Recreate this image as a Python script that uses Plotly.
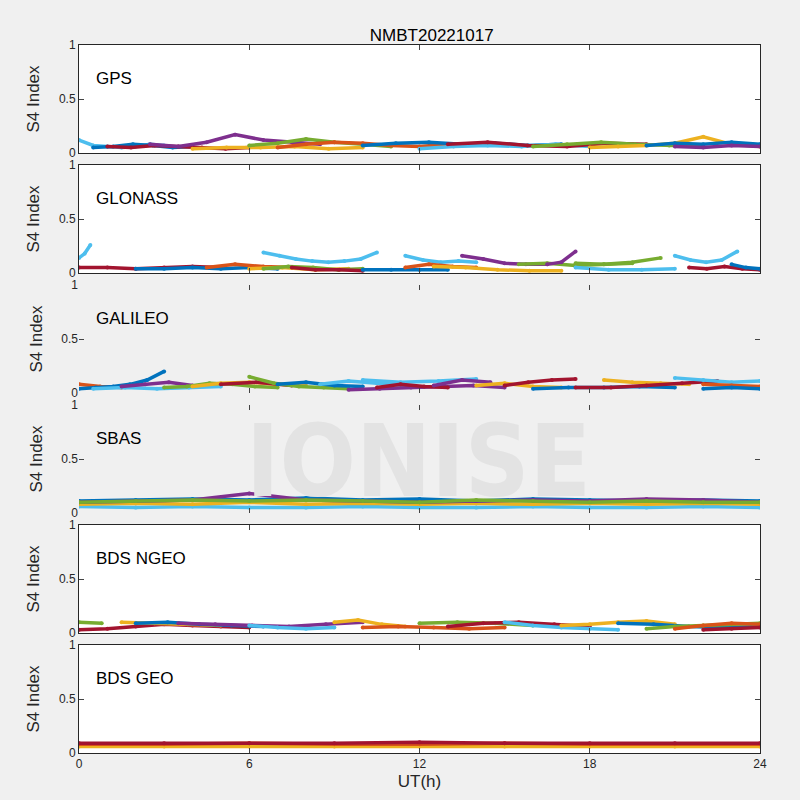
import numpy as np
import plotly.graph_objects as go
from plotly.subplots import make_subplots

# ── MATLAB default colour order ───────────────────────────────────────────────
CLRS = ["#0072BD", "#D95319", "#EDB120", "#7E2F8E", "#77AC30", "#4DBEEE", "#A2142F"]

TITLE = "NMBT20221017"
PANELS = ["GPS", "GLONASS", "GALILEO", "SBAS", "BDS NGEO", "BDS GEO"]
X_TICKS = [0, 6, 12, 18, 24]

# tracks: (colour idx, start h, end h, S4 values)
GPS = [
    (5, 0.0, 3.0, [0.12, 0.07, 0.06, 0.05, 0.06, 0.08, 0.07]),
    (0, 0.5, 4.0, [0.05, 0.06, 0.08, 0.07, 0.05, 0.06]),
    (6, 1.0, 6.0, [0.06, 0.05, 0.07, 0.06, 0.05, 0.04, 0.05]),
    (3, 2.5, 8.5, [0.08, 0.06, 0.10, 0.17, 0.12, 0.10, 0.08]),
    (2, 4.0, 10.0, [0.04, 0.05, 0.05, 0.06, 0.04, 0.05]),
    (4, 6.0, 11.0, [0.07, 0.09, 0.13, 0.10, 0.08, 0.06]),
    (1, 7.0, 13.0, [0.05, 0.08, 0.10, 0.09, 0.07, 0.06, 0.08]),
    (0, 10.0, 17.0, [0.07, 0.09, 0.10, 0.08, 0.09, 0.07, 0.08]),
    (5, 12.0, 18.0, [0.04, 0.06, 0.07, 0.06, 0.08, 0.06]),
    (6, 13.0, 20.0, [0.08, 0.10, 0.07, 0.06, 0.09, 0.08]),
    (4, 16.0, 22.0, [0.06, 0.08, 0.10, 0.08, 0.07, 0.06]),
    (2, 18.0, 24.0, [0.05, 0.06, 0.07, 0.09, 0.15, 0.08, 0.06]),
    (0, 20.0, 24.0, [0.07, 0.09, 0.08, 0.10, 0.08]),
    (3, 21.0, 24.0, [0.06, 0.05, 0.07, 0.06]),
]
GLONASS = [
    (5, 0.0, 0.4, [0.14, 0.18, 0.26]),
    (6, 0.0, 5.0, [0.05, 0.05, 0.04, 0.05, 0.06, 0.05]),
    (0, 2.0, 7.0, [0.04, 0.04, 0.05, 0.04, 0.05, 0.04]),
    (1, 4.5, 7.5, [0.05, 0.08, 0.06, 0.05]),
    (2, 6.0, 9.5, [0.04, 0.05, 0.03, 0.04]),
    (4, 6.5, 10.0, [0.04, 0.06, 0.05, 0.03, 0.04]),
    (5, 6.5, 10.5, [0.19, 0.16, 0.13, 0.11, 0.10, 0.11, 0.13, 0.19]),
    (6, 7.5, 10.0, [0.05, 0.03, 0.03, 0.02]),
    (0, 10.0, 13.0, [0.03, 0.03, 0.03, 0.03]),
    (5, 11.5, 14.0, [0.16, 0.12, 0.10, 0.11, 0.10]),
    (1, 11.5, 14.0, [0.05, 0.08, 0.06, 0.05]),
    (2, 12.5, 17.0, [0.06, 0.05, 0.03, 0.02, 0.02]),
    (3, 13.5, 16.5, [0.16, 0.13, 0.09, 0.08, 0.08]),
    (4, 15.5, 19.5, [0.08, 0.09, 0.07, 0.08, 0.09]),
    (3, 16.5, 17.5, [0.08, 0.10, 0.20]),
    (4, 17.5, 20.5, [0.09, 0.08, 0.10, 0.14]),
    (5, 17.5, 21.0, [0.05, 0.03, 0.03, 0.04]),
    (5, 21.0, 23.2, [0.16, 0.12, 0.10, 0.12, 0.20]),
    (6, 21.5, 24.0, [0.05, 0.04, 0.06, 0.04, 0.03]),
    (0, 23.0, 24.0, [0.08, 0.05, 0.04]),
]
GALILEO = [
    (1, 0.0, 1.5, [0.08, 0.06, 0.05]),
    (0, 0.0, 3.0, [0.04, 0.05, 0.06, 0.08, 0.12, 0.20]),
    (5, 0.5, 5.0, [0.04, 0.05, 0.04, 0.05, 0.06]),
    (3, 1.5, 4.0, [0.06, 0.08, 0.10, 0.07]),
    (4, 3.0, 7.0, [0.05, 0.06, 0.09, 0.08, 0.06, 0.05]),
    (2, 4.0, 8.0, [0.06, 0.09, 0.10, 0.08, 0.07]),
    (6, 5.0, 7.5, [0.08, 0.10, 0.07]),
    (4, 6.0, 9.5, [0.15, 0.09, 0.06, 0.05, 0.04]),
    (0, 7.0, 10.0, [0.08, 0.10, 0.07, 0.06]),
    (5, 8.5, 11.5, [0.08, 0.11, 0.09, 0.07]),
    (3, 9.5, 15.0, [0.03, 0.04, 0.05, 0.06, 0.07, 0.05]),
    (5, 10.0, 14.0, [0.12, 0.10, 0.11, 0.13]),
    (6, 10.5, 13.0, [0.05, 0.08, 0.06, 0.05]),
    (3, 12.5, 14.5, [0.07, 0.12, 0.10]),
    (2, 14.0, 17.0, [0.07, 0.09, 0.06, 0.05]),
    (6, 15.0, 17.5, [0.07, 0.10, 0.12, 0.13]),
    (0, 16.0, 21.0, [0.04, 0.05, 0.05, 0.06, 0.05]),
    (2, 18.5, 21.5, [0.12, 0.10, 0.09, 0.08]),
    (6, 17.5, 22.5, [0.05, 0.05, 0.07, 0.09, 0.11]),
    (5, 21.0, 24.0, [0.14, 0.12, 0.10, 0.11]),
    (1, 22.0, 24.0, [0.08, 0.07, 0.06]),
    (0, 22.0, 24.0, [0.04, 0.05, 0.04]),
]
SBAS = [
    (5, 0.0, 24.0, [0.06, 0.05, 0.06, 0.05, 0.05, 0.06, 0.05, 0.05, 0.06, 0.05, 0.05, 0.06, 0.05]),
    (2, 0.0, 24.0, [0.08, 0.09, 0.08, 0.10, 0.08, 0.09, 0.08, 0.09, 0.08, 0.09, 0.08, 0.09, 0.08]),
    (0, 0.0, 24.0, [0.11, 0.12, 0.13, 0.12, 0.14, 0.12, 0.13, 0.11, 0.13, 0.12, 0.11, 0.12, 0.11]),
    (3, 0.0, 24.0, [0.10, 0.11, 0.12, 0.18, 0.12, 0.11, 0.10, 0.11, 0.12, 0.11, 0.13, 0.12, 0.10]),
    (4, 0.0, 24.0, [0.10, 0.11, 0.12, 0.11, 0.12, 0.11, 0.10, 0.12, 0.11, 0.10, 0.11, 0.10, 0.10]),
]
BDS_NGEO = [
    (4, 0.0, 0.8, [0.10, 0.09]),
    (6, 0.0, 6.0, [0.03, 0.04, 0.06, 0.08, 0.07, 0.06, 0.05]),
    (2, 1.5, 5.0, [0.10, 0.09, 0.08, 0.07]),
    (0, 2.0, 6.5, [0.09, 0.10, 0.08, 0.07, 0.06]),
    (3, 3.5, 10.0, [0.09, 0.08, 0.07, 0.06, 0.08, 0.10]),
    (5, 6.0, 9.0, [0.07, 0.05, 0.04, 0.05]),
    (2, 9.0, 11.5, [0.10, 0.12, 0.08, 0.06]),
    (1, 10.0, 15.0, [0.05, 0.06, 0.05, 0.04, 0.05]),
    (4, 12.0, 16.0, [0.09, 0.10, 0.09, 0.07]),
    (6, 13.0, 18.0, [0.06, 0.09, 0.10, 0.08, 0.06]),
    (5, 15.0, 19.0, [0.10, 0.07, 0.05, 0.04, 0.03]),
    (2, 17.0, 21.0, [0.07, 0.08, 0.10, 0.11, 0.08]),
    (0, 19.0, 24.0, [0.09, 0.08, 0.06, 0.05, 0.06]),
    (4, 20.0, 24.0, [0.04, 0.06, 0.07, 0.08, 0.09]),
    (1, 21.0, 24.0, [0.04, 0.07, 0.09, 0.08]),
    (6, 22.0, 24.0, [0.03, 0.04, 0.05]),
]
BDS_GEO = [
    (2, 0.0, 24.0, [0.06, 0.06, 0.06, 0.06, 0.06, 0.06, 0.06, 0.06, 0.06]),
    (1, 0.0, 24.0, [0.08, 0.08, 0.09, 0.08, 0.08, 0.09, 0.08, 0.08, 0.08]),
    (6, 0.0, 24.0, [0.09, 0.09, 0.09, 0.09, 0.10, 0.09, 0.09, 0.09, 0.09]),
]
ALL_TRACKS = [GPS, GLONASS, GALILEO, SBAS, BDS_NGEO, BDS_GEO]

fig = make_subplots(rows=6, cols=1, shared_xaxes=True, vertical_spacing=12 / 708)

for r, tracks in enumerate(ALL_TRACKS, start=1):
    for ci, t0, t1, vals in tracks:
        fig.add_trace(go.Scatter(
            x=np.linspace(t0, t1, len(vals)), y=vals,
            mode="lines+markers", line=dict(color=CLRS[ci], width=3.5),
            marker=dict(color=CLRS[ci], size=4), showlegend=False,
        ), row=r, col=1)

# grey backdrop for the two watermark panels (no axis box there)
for r in (3, 4):
    fig.add_shape(type="rect", xref=f"x{r} domain", yref=f"y{r} domain",
                  x0=0, x1=1, y0=0, y1=1, fillcolor="#f0f0f0", line_width=0, layer="below")

for r, name in enumerate(PANELS, start=1):
    sfx = "" if r == 1 else str(r)
    fig.add_annotation(text=name, x=0.022, y=0.80, xref=f"x{sfx} domain", yref=f"y{sfx} domain",
                       showarrow=False, xanchor="left", font=dict(size=17, color="black"))
    grey = name in ("GALILEO", "SBAS")
    fig.update_yaxes(range=[0, 1], tickvals=[0, 0.5, 1], ticktext=["0", "0.5", "1"],
                     title_text="S4 Index", title_font=dict(size=17), title_standoff=14,
                     ticks="inside", ticklen=5, showgrid=False, zeroline=False,
                     showline=not grey, mirror="ticks", linecolor="#262626",
                     automargin=False, row=r, col=1)
    fig.update_xaxes(range=[0, 24], tickvals=X_TICKS, ticks="inside", ticklen=5,
                     showgrid=False, zeroline=False, showline=not grey, mirror="ticks",
                     linecolor="#262626", showticklabels=(r == 6), automargin=False,
                     row=r, col=1)

fig.update_xaxes(title_text="UT(h)", title_font=dict(size=17), title_standoff=4, row=6, col=1)

fig.add_annotation(text="<b>IONISE</b>", xref="x4", yref="y4", x=11.95, y=0.48,
                   showarrow=False,
                   font=dict(size=100, color="#e3e3e3", family="DejaVu Sans Condensed"))

fig.update_layout(
    title=dict(text=TITLE, x=0.518, xref="paper", xanchor="center", y=0.964,
               font=dict(size=17, color="black")),
    width=800, height=800,
    paper_bgcolor="#f0f0f0", plot_bgcolor="white",
    font=dict(family="Liberation Sans, Arial", size=12, color="#262626"),
    margin=dict(l=79, r=40, t=45, b=47),
)

fig.write_html("out.html", config={"displayModeBar": False},
               post_script="document.body.style.margin='0';")
